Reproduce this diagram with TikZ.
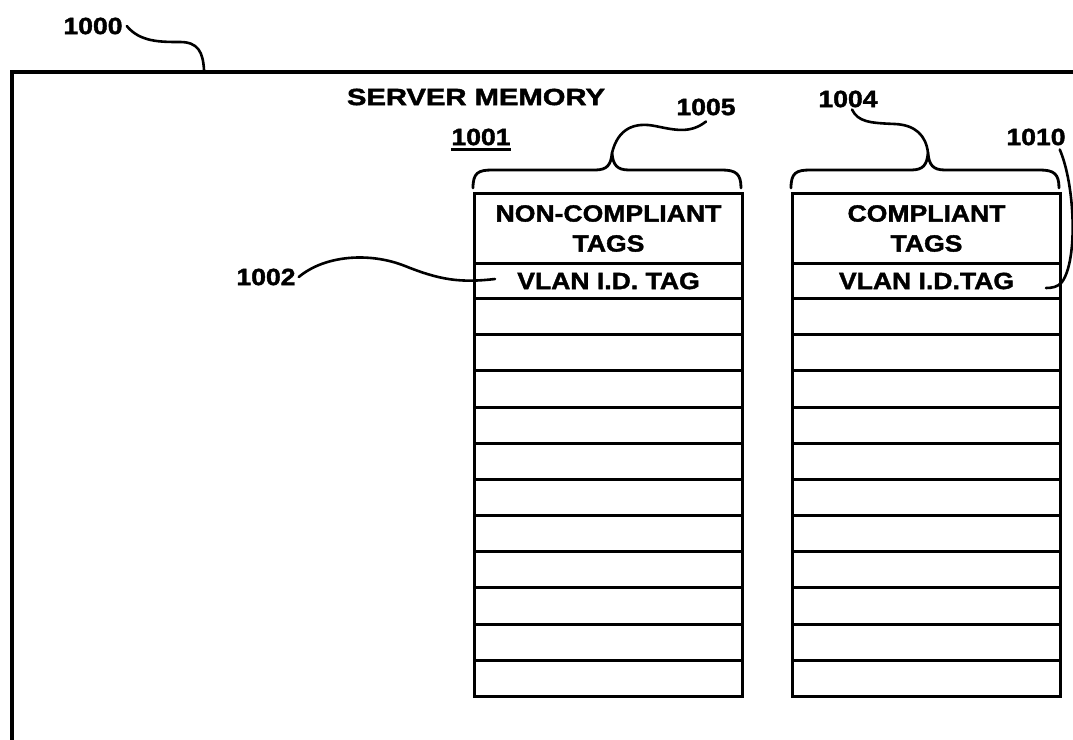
\documentclass[tikz,border=0pt]{standalone}
\usepackage{fontspec}
\usepackage{graphicx}
\newfontfamily\pf{Liberation Sans}[FakeStretch=1.13,FakeBold=1.6]
\begin{document}
\begin{tikzpicture}[x=1pt,y=-1pt,
  lbl/.style={font=\pf\bfseries\fontsize{23.5}{30}\selectfont, inner sep=0pt},
  cell/.style={draw, line width=3pt, inner sep=0pt, anchor=north west, minimum width=268pt, align=center, font=\pf\bfseries\fontsize{23.5}{30}\selectfont},
  lead/.style={line width=2.6pt, line cap=round},
  brace/.style={line width=2.8pt, line cap=round, line join=round}]
\useasboundingbox (0,0) rectangle (1073,739);
\clip (0,0) rectangle (1073,739);
\node[draw, line width=3.5pt, minimum width=1100pt, minimum height=700pt, anchor=north west, inner sep=0pt] (mem) at (10,70) {};
% non-compliant table
\node[cell, minimum height=70pt] (ncHead) at (473,192) {NON-COMPLIANT\\TAGS};
\node[cell, minimum height=35pt] (ncVlan) at (473,262) {VLAN I.D. TAG};
\foreach \i in {0,...,10} \node[cell, minimum height=36.18pt] (ncRow\i) at (473,{297+36.18*\i}) {};
% compliant table
\node[cell, minimum height=70pt] (cHead) at (791,192) {COMPLIANT\\TAGS};
\node[cell, minimum height=35pt] (cVlan) at (791,262) {VLAN I.D.TAG};
\foreach \i in {0,...,10} \node[cell, minimum height=36.18pt] (cRow\i) at (791,{297+36.18*\i}) {};
% braces
\coordinate (ncTip) at (612,153);
\coordinate (cTip) at (928,153);
\draw[brace] (473,188) .. controls (473,173) and (478,170) .. (492,170) -- (595,170) .. controls (607,170) and (611,165) .. (ncTip) .. controls (613,165) and (617,170) .. (629,170) -- (722,170) .. controls (736,170) and (741,174) .. (741,188);
\draw[brace] (791,188) .. controls (791,173) and (796,170) .. (810,170) -- (911,170) .. controls (923,170) and (927,165) .. (cTip) .. controls (929,165) and (933,170) .. (945,170) -- (1040,170) .. controls (1054,170) and (1059,174) .. (1059,188);
% labels
\node[lbl] (l1000) at (93,26) {1000};
\node[lbl] (lsm) at (476,97) {\scalebox{1.1}[1]{SERVER MEMORY}};
\node[lbl] (l1001) at (481,137) {1001};
\draw[line width=2.5pt] ([yshift=-4pt]l1001.south west) -- ([yshift=-4pt]l1001.south east);
\node[lbl] (l1005) at (706,107) {1005};
\node[lbl] (l1004) at (848,99) {1004};
\node[lbl] (l1010) at (1036,137) {1010};
\node[lbl] (l1002) at (266,277) {1002};
% leaders
\coordinate (c1000) at (204,70);
\coordinate (c1002) at (495,279);
\coordinate (c1010) at (1046,288);
\draw[lead] ([xshift=4pt]l1000.east) .. controls (140,42) and (160,42) .. (180,42) .. controls (198,42) and (203,52) .. (c1000);
\draw[lead] ([xshift=3pt]l1002.east) .. controls (325,255) and (370,252) .. (405,266) .. controls (440,280) and (460,283) .. (c1002);
\draw[lead] (ncTip) .. controls (618,128) and (635,122) .. (655,126) .. controls (675,130) and (690,134) .. ([yshift=-6pt]l1005.south);
\draw[lead] (cTip) .. controls (926,135) and (915,125) .. (895,124) .. controls (870,123) and (858,122) .. ([xshift=4pt,yshift=-2pt]l1004.south);
\draw[lead] ([xshift=-6pt,yshift=-4pt]l1010.south east) .. controls (1075,185) and (1078,260) .. (1062,282) .. controls (1058,287) and (1052,288) .. (c1010);
\end{tikzpicture}
\end{document}
